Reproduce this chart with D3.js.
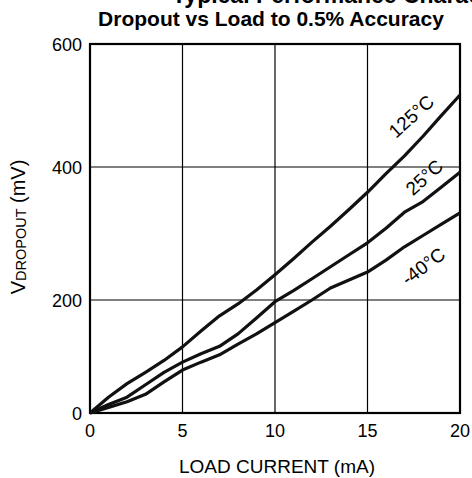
<!DOCTYPE html>
<html><head><meta charset="utf-8">
<script src="https://cdn.jsdelivr.net/npm/d3@7"></script>
<style>
html,body{margin:0;padding:0;background:#fff;}
svg{display:block;font-family:"Liberation Sans",Arial,sans-serif;}
</style></head>
<body>
<svg id="chart" width="472" height="478"></svg>
<script>
const loadCurrent = [0,1,2,3,4,5,6,7,8,9,10,11,12,13,14,15,16,17,18,19,20];
const dropout125 = [0,28,52,72,93,117,145,172,193,215,238,262,287,311,336,362,390,418,450,484,517];
const dropout25  = [0,15,28,50,72,90,105,118,140,168,197,214,232,250,268,286,308,332,348,370,392];
const dropoutM40 = [0,10,20,33,55,76,90,103,122,140,160,180,200,218,230,242,260,280,297,314,331];
const seriesNames = ["125°C","25°C","-40°C"];
const xTicks = [0,5,10,15,20];
const yTicks = [0,200,400,600];

const svg = d3.select("#chart");
const x = d3.scaleLinear().domain([0,20]).range([90,460]);
const y = d3.scaleLinear().domain([0,200,400,600]).range([413,300,167,44]);

// titles
svg.append("text").attr("x",172).attr("y",3).attr("font-size",23).attr("font-weight","bold")
  .text("Typical Performance Characteristics");
svg.append("text").attr("x",271).attr("y",26).attr("text-anchor","middle")
  .attr("font-size",21).attr("font-weight","bold").text("Dropout vs Load to 0.5% Accuracy");

// grid
const g = svg.append("g");
g.selectAll(".vg").data(xTicks.slice(1,-1)).join("line")
  .attr("x1",d=>x(d)).attr("x2",d=>x(d)).attr("y1",y(0)).attr("y2",y(600))
  .attr("stroke","#000").attr("stroke-width",1.2);
g.selectAll(".hg").data(yTicks.slice(1,-1)).join("line")
  .attr("y1",d=>y(d)).attr("y2",d=>y(d)).attr("x1",x(0)).attr("x2",x(20))
  .attr("stroke","#000").attr("stroke-width",1.2);

// frame
svg.append("rect").attr("x",x(0)).attr("y",y(600)).attr("width",x(20)-x(0)).attr("height",y(0)-y(600))
  .attr("fill","none").attr("stroke","#000").attr("stroke-width",2.2);

// tick labels
svg.selectAll(".xt").data(xTicks).join("text")
  .attr("x",d=>x(d)).attr("y",437).attr("text-anchor","middle").attr("font-size",18).text(d=>d);
svg.selectAll(".yt").data(yTicks).join("text")
  .attr("x",82).attr("y",d=>y(d)+7).attr("text-anchor","end").attr("font-size",18).text(d=>d);

// axis titles
svg.append("text").attr("x",277).attr("y",473).attr("text-anchor","middle").attr("font-size",19)
  .text("LOAD CURRENT (mA)");
const yt = svg.append("text").attr("transform","translate(25,227) rotate(-90)")
  .attr("text-anchor","middle").attr("font-size",20);
yt.append("tspan").text("V");
yt.append("tspan").attr("font-size",14.5).attr("dy",1).text("DROPOUT");
yt.append("tspan").attr("dy",-1).text(" (mV)");

// curves
const line = d3.line().x((d,i)=>x(loadCurrent[i])).y(d=>y(d));
[dropout125,dropout25,dropoutM40].forEach(s=>{
  svg.append("path").attr("d",line(s)).attr("fill","none").attr("stroke","#111")
    .attr("stroke-width",3.2).attr("stroke-linejoin","round");
});

// labels
const labelPos = [[411,116,-42],[424,177,-42],[423,266,-37]];
seriesNames.forEach((n,i)=>{
  const p = labelPos[i];
  svg.append("text").attr("transform",`translate(${p[0]},${p[1]}) rotate(${p[2]})`)
    .attr("text-anchor","middle").attr("dy",7).attr("font-size",19).text(n);
});
</script>
</body></html>
